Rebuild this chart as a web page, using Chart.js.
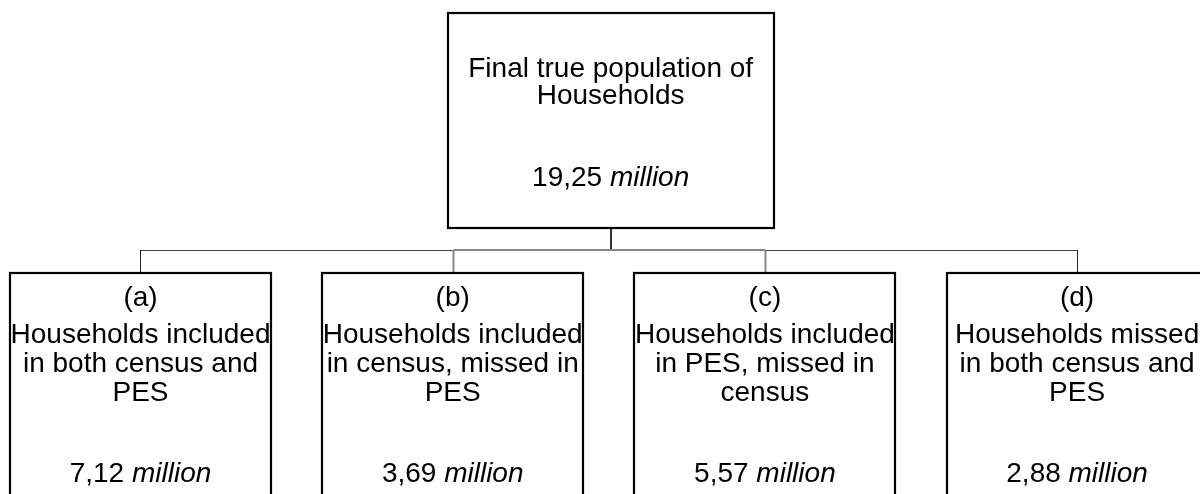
<!DOCTYPE html>
<html><head><meta charset="utf-8">
<script src="https://cdn.jsdelivr.net/npm/chart.js@4.4.1/dist/chart.umd.min.js"></script>
<style>html,body{margin:0;padding:0;background:#fff;overflow:hidden}#wrap{width:1200px;height:494px;position:relative}</style>
</head><body><div id="wrap"><canvas id="c"></canvas></div>
<script>
// ---- data ----
const nodeTags = ['', '(a)', '(b)', '(c)', '(d)'];
const nodeLines = [
  ['Final true population of', 'Households'],
  ['Households included', 'in both census and', 'PES'],
  ['Households included', 'in census, missed in', 'PES'],
  ['Households included', 'in PES, missed in', 'census'],
  ['Households missed', 'in both census and', 'PES']
];
const nodeValues = [19.25, 7.12, 3.69, 5.57, 2.88];
const valueUnit = 'million';
const nodeParent = [-1, 0, 0, 0, 0];

// ---- style / layout ----
const STYLE = {
  font: '"Liberation Sans", Arial, sans-serif',
  size: 28,
  xMin: -0.45, xMax: 3.3937,
  levelTop: [12, 272],
  levelHeight: [217, 260],
  boxWidth: [1.05, 0.8425],
  rootShift: 0.006,
  tagBase: 34,
  lineBase: [65, 71],
  lineStep: [26.5, 29],
  valueBase: [174, 209.7],
  connectorY: 250
};

// structure: depth and slot
const depth = nodeParent.map((p, i) => { let d = 0, k = i; while (nodeParent[k] >= 0) { d++; k = nodeParent[k]; } return d; });
const slot = new Array(nodeParent.length).fill(0);
nodeParent.forEach((p, i) => { if (p >= 0) slot[i] = nodeParent.slice(0, i).filter(q => q === p).length; });
nodeParent.forEach((p, i) => {
  const kids = nodeParent.map((q, j) => q === i ? j : -1).filter(j => j >= 0);
  if (kids.length) slot[i] = kids.reduce((s, j) => s + slot[j], 0) / kids.length;
});
const points = nodeValues.map((v, i) => ({ x: slot[i], y: STYLE.levelTop[depth[i]], v }));
const fmt = v => v.toFixed(2).replace('.', ',');

const diagramPlugin = {
  id: 'diagram',
  afterDatasetsDraw(chart) {
    const ctx = chart.ctx;
    const xs = chart.scales.x, ys = chart.scales.y;
    const meta = chart.getDatasetMeta(0);
    const unit = xs.getPixelForValue(1) - xs.getPixelForValue(0);
    const boxes = meta.data.map((el, i) => {
      const w = STYLE.boxWidth[depth[i]] * unit;
      const cxBox = el.x + (depth[i] === 0 ? STYLE.rootShift * unit : 0);
      const top = el.y;
      const bottom = ys.getPixelForValue(STYLE.levelTop[depth[i]] + STYLE.levelHeight[depth[i]]);
      return { cx: el.x, bx: cxBox, left: Math.round(cxBox - w / 2), right: Math.round(cxBox + w / 2), top: Math.round(top), bottom: Math.round(bottom) };
    });
    ctx.save();
    // connectors
    const cy = ys.getPixelForValue(STYLE.connectorY);
    nodeParent.forEach((p, i) => {
      const kids = nodeParent.map((q, j) => q === i ? j : -1).filter(j => j >= 0);
      if (!kids.length) return;
      const pb = boxes[i];
      const pcx = Math.round(pb.bx);
      ctx.strokeStyle = '#333'; ctx.lineWidth = 2;
      ctx.beginPath(); ctx.moveTo(pcx, pb.bottom); ctx.lineTo(pcx, cy); ctx.stroke();
      const xsK = kids.map(k => Math.round(boxes[k].cx) + 0.5);
      const first = xsK[0], last = xsK[xsK.length - 1];
      const inner1 = xsK[1], inner2 = xsK[xsK.length - 2];
      ctx.lineWidth = 1.2; ctx.strokeStyle = '#444';
      ctx.beginPath(); ctx.moveTo(first, cy + 0.5); ctx.lineTo(inner1, cy + 0.5); ctx.stroke();
      ctx.beginPath(); ctx.moveTo(inner2, cy + 0.5); ctx.lineTo(last, cy + 0.5); ctx.stroke();
      ctx.strokeStyle = '#888'; ctx.lineWidth = 2;
      ctx.beginPath(); ctx.moveTo(inner1, cy); ctx.lineTo(inner2, cy); ctx.stroke();
      kids.forEach((k, n) => {
        const x = xsK[n];
        const inner = n > 0 && n < kids.length - 1;
        ctx.strokeStyle = inner ? '#888' : '#222';
        ctx.lineWidth = inner ? 2 : 1;
        ctx.beginPath(); ctx.moveTo(x, cy); ctx.lineTo(x, boxes[k].top); ctx.stroke();
      });
    });
    // boxes and text
    boxes.forEach((b, i) => {
      const d = depth[i];
      ctx.fillStyle = '#fff';
      ctx.fillRect(b.left, b.top, b.right - b.left, b.bottom - b.top);
      ctx.strokeStyle = '#000'; ctx.lineWidth = 2.2;
      ctx.strokeRect(b.left + 1, b.top + 1, b.right - b.left - 2, b.bottom - b.top - 2);
      ctx.fillStyle = '#000';
      ctx.textBaseline = 'alphabetic';
      ctx.textAlign = 'center';
      ctx.font = STYLE.size + 'px ' + STYLE.font;
      const cx = b.bx;
      if (nodeTags[i]) ctx.fillText(nodeTags[i], cx, b.top + STYLE.tagBase);
      nodeLines[i].forEach((t, n) => ctx.fillText(t, cx, b.top + STYLE.lineBase[d] + n * STYLE.lineStep[d]));
      const num = fmt(nodeValues[i]) + ' ';
      ctx.font = STYLE.size + 'px ' + STYLE.font;
      const w1 = ctx.measureText(num).width;
      ctx.font = 'italic ' + STYLE.size + 'px ' + STYLE.font;
      const w2 = ctx.measureText(valueUnit).width;
      const x0 = cx - (w1 + w2) / 2;
      ctx.textAlign = 'left';
      ctx.font = STYLE.size + 'px ' + STYLE.font;
      ctx.fillText(num, x0, b.top + STYLE.valueBase[d]);
      ctx.font = 'italic ' + STYLE.size + 'px ' + STYLE.font;
      ctx.fillText(valueUnit, x0 + w1, b.top + STYLE.valueBase[d]);
    });
    ctx.restore();
  }
};

new Chart(document.getElementById('c'), {
  type: 'scatter',
  data: { datasets: [{ data: points, pointRadius: 0, pointHoverRadius: 0 }] },
  options: {
    responsive: true, maintainAspectRatio: false, animation: false,
    layout: { padding: 0 },
    plugins: { legend: { display: false }, tooltip: { enabled: false } },
    scales: {
      x: { type: 'linear', min: STYLE.xMin, max: STYLE.xMax, display: false },
      y: { type: 'linear', min: 0, max: 494, reverse: true, display: false }
    }
  },
  plugins: [diagramPlugin]
});
</script>
</body></html>
